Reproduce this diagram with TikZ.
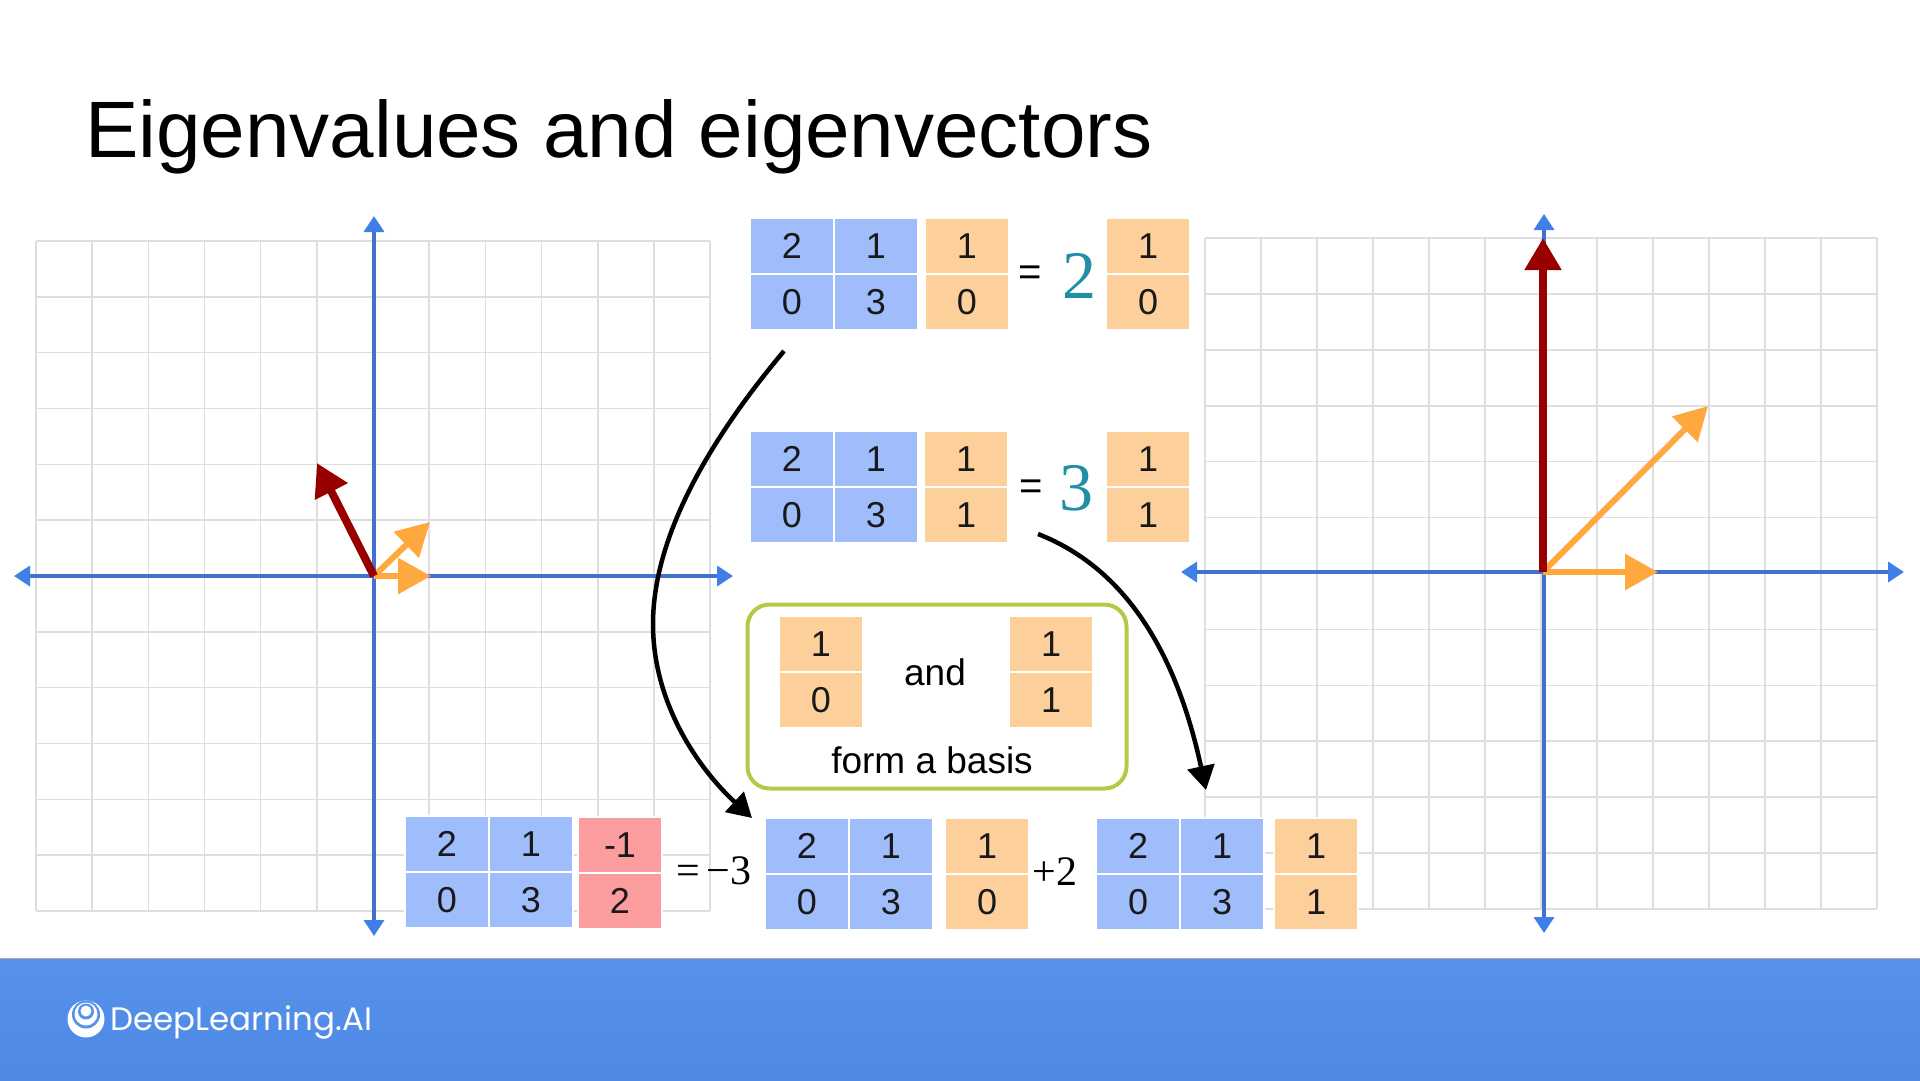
\documentclass[tikz,border=0pt]{standalone}
\usepackage{fontspec}
\setmainfont{Liberation Sans}
\newfontfamily\serifnum{Liberation Serif}
\newfontfamily\logofont{Poppins}
\usetikzlibrary{arrows.meta,positioning}
\definecolor{matblue}{HTML}{9FBDFB}
\definecolor{vecorange}{HTML}{FDD09B}
\definecolor{vecred}{HTML}{FB9C9E}
\definecolor{axisblue}{HTML}{4272D0}
\definecolor{tipblue}{HTML}{3F7FE8}
\definecolor{gridgray}{HTML}{DEDEDE}
\definecolor{vecdark}{HTML}{980000}
\definecolor{vecamber}{HTML}{FEA83D}
\definecolor{scaleteal}{HTML}{1F8FA5}
\definecolor{basisgreen}{HTML}{B5C944}
\definecolor{bandtop}{HTML}{5692EB}
\definecolor{bandbottom}{HTML}{4D89E5}

\begin{document}
\begin{tikzpicture}[
  x=1pt, y=-1pt,
  cell/.style={draw=white, line width=2pt, inner sep=0pt, outer sep=0pt, minimum width=84pt, minimum height=56pt, font=\fontsize{36}{40}\selectfont, text=black!90},
  gridline/.style={gridgray, line width=1.6pt},
  axisline/.style={axisblue, line width=3.5pt, {Triangle[length=16pt,width=20pt,color=tipblue]}-{Triangle[length=16pt,width=20pt,color=tipblue]}},
  darkvec/.style={vecdark, line width=8pt, -{Triangle[length=32pt,width=35pt]}},
  ambervec/.style={vecamber, line width=6pt, -{Triangle[length=33pt,width=35pt]}},
  curvearrow/.style={black, line width=4.5pt, -{Triangle[length=24pt,width=27pt]}},
  eqsign/.style={inner sep=0pt, font=\fontsize{40}{44}\selectfont},
  scalenum/.style={inner sep=0pt, text=scaleteal, font=\serifnum\fontsize{68}{72}\selectfont},
  coeff/.style={inner sep=0pt, font=\serifnum\fontsize{42}{46}\selectfont},
  plaintext/.style={inner sep=0pt, font=\fontsize{37}{42}\selectfont}
]
\useasboundingbox (0,0) rectangle (1920,1080);

\node[inner sep=0pt, anchor=west, font=\fontsize{80}{90}\selectfont] (title) at (85,137) {Eigenvalues and eigenvectors};

% grids
\foreach \i in {0,...,12} {
  \draw[gridline] ({36+\i*56.17},241) -- ({36+\i*56.17},911);
  \draw[gridline] (36,{241+\i*55.83}) -- (710,{241+\i*55.83});
  \draw[gridline] ({1205+\i*56},238) -- ({1205+\i*56},909);
  \draw[gridline] (1205,{238+\i*55.92}) -- (1877,{238+\i*55.92});
}

% axes
\coordinate (lo) at (374,576);
\coordinate (ll) at (14,576);
\coordinate (lr) at (733,576);
\coordinate (lt) at (374,216);
\coordinate (lb) at (374,936);
\coordinate (ro) at (1543,572);
\coordinate (rl) at (1181,572);
\coordinate (rr) at (1904,572);
\coordinate (rt) at (1544,214);
\coordinate (rb) at (1544,933);
\draw[axisline] (ll) -- (lr);
\draw[axisline] (lt) -- (lb);
\draw[axisline] (rl) -- (rr);
\draw[axisline] (rt) -- (rb);

% vectors
\coordinate (la) at (430,522);
\coordinate (lc) at (431,576);
\coordinate (ld) at (317,463);
\coordinate (ra) at (1708,406);
\coordinate (rc) at (1658,572);
\coordinate (rd) at (1543,238);
\draw[ambervec] (lo) -- (la);
\draw[ambervec] (lo) -- (lc);
\draw[darkvec] (lo) -- (ld);
\draw[ambervec] (ro) -- (ra);
\draw[ambervec] (ro) -- (rc);
\draw[darkvec] (ro) -- (rd);

% matrices
\foreach \name/\x/\y in {ma/750/218, mb/750/431, mc/405/816, md/765/818, me/1096/818} {
  \node[cell, fill=matblue, anchor=north west] (\name1) at (\x,\y) {2};
  \node[cell, fill=matblue, right=0pt of \name1] (\name2) {1};
  \node[cell, fill=matblue, below=0pt of \name1] (\name3) {0};
  \node[cell, fill=matblue, below=0pt of \name2] (\name4) {3};
}

% column vectors
\foreach \name/\x/\y/\up/\dn/\col in {va/925/218/1/0/vecorange, vb/1106/218/1/0/vecorange, vc/924/431/1/1/vecorange, vd/1106/431/1/1/vecorange, ve/779/616/1/0/vecorange, vf/1009/616/1/1/vecorange, vg/578/817/-1/2/vecred, vh/945/818/1/0/vecorange, vi/1274/818/1/1/vecorange} {
  \node[cell, fill=\col, anchor=north west] (\name1) at (\x,\y) {\up};
  \node[cell, fill=\col, below=0pt of \name1] (\name2) {\dn};
}

% equals and scalars
\node[eqsign] (eqa) at (1030,276) {=};
\node[eqsign] (eqb) at (1031,490) {=};
\node[scalenum] (sa) at (1079,276) {2};
\node[scalenum] (sb) at (1076,488) {3};
\node[coeff] (ca) at (714,871) {=\,−3};
\node[coeff] (cb) at (1055,872) {+2};

% basis box
\node[draw=basisgreen, line width=4pt, rounded corners=22pt, minimum width=379pt, minimum height=184pt, inner sep=0pt] (basis) at (937,696.5) {};
\node[plaintext] (andtext) at (935,672) {and};
\node[plaintext] (basistext) at (932,760) {form a basis};

% curved arrows
\coordinate (ca1) at (784,351);
\coordinate (ca2) at (653,624);
\coordinate (ca3) at (752,818);
\coordinate (cb1) at (1038,534);
\coordinate (cb2) at (1206,790);
\draw[curvearrow] (ca1) .. controls (705,445) and (653,540) .. (ca2) .. controls (653,705) and (700,770) .. (ca3);
\draw[curvearrow] (cb1) .. controls (1130,570) and (1178,660) .. (cb2);

% footer
\fill[black!35] (0,958) rectangle (1920,960);
\shade[top color=bandtop, bottom color=bandbottom] (0,959) rectangle (1920,1080);
\fill[white] (86,1019) circle (18.5);
\fill[bandtop] (86,1014.5) circle (14);
\fill[white] (86,1014) circle (11.5);
\fill[bandtop] (86,1011.5) circle (8);
\fill[white] (86,1011) circle (5.5);
\node[inner sep=0pt, anchor=west, text=white, font=\logofont\fontsize{32.5}{36}\selectfont] (logo) at (110,1023) {DeepLearning.AI};
\end{tikzpicture}
\end{document}
